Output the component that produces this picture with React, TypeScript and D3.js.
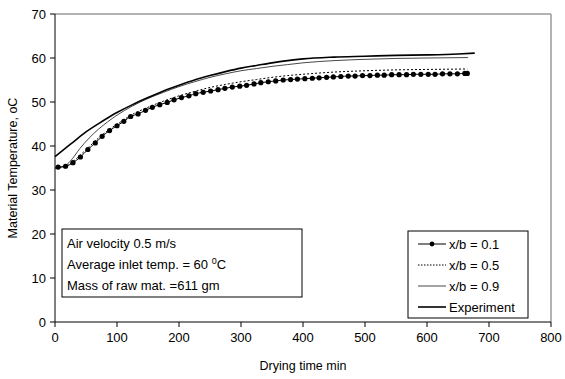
import React from 'react';
import * as d3 from 'd3';

const W = 565;
const H = 379;

// x/b = 0.1 (markers)
const timeXb01 = [5, 17, 29, 41, 53, 65, 76, 88, 100, 111, 122, 134, 146, 157, 169, 181, 192, 204, 216, 227, 239, 251, 263, 274, 286, 298, 309, 321, 332, 344, 356, 368, 380, 391, 403, 415, 426, 438, 449, 461, 473, 484, 496, 508, 520, 531, 543, 555, 567, 578, 590, 602, 613, 625, 637, 649, 661, 665];
const tempXb01 = [35.2, 35.4, 36.2, 37.5, 39.2, 40.7, 42.2, 43.5, 44.6, 45.6, 46.7, 47.3, 48.1, 48.8, 49.4, 49.9, 50.5, 51.0, 51.4, 51.9, 52.2, 52.5, 52.8, 53.1, 53.4, 53.6, 53.8, 54.1, 54.4, 54.6, 54.8, 55.0, 55.1, 55.2, 55.3, 55.4, 55.5, 55.6, 55.7, 55.8, 55.9, 55.9, 56.0, 56.0, 56.1, 56.1, 56.2, 56.2, 56.2, 56.3, 56.3, 56.3, 56.3, 56.4, 56.4, 56.4, 56.5, 56.5];

// x/b = 0.5 (dotted)
const timeXb05 = [0, 15, 30, 45, 60, 75, 90, 105, 125, 150, 175, 200, 225, 250, 275, 300, 325, 350, 375, 400, 450, 500, 550, 600, 665];
const tempXb05 = [35.0, 35.3, 36.6, 38.5, 40.5, 42.4, 44.0, 45.4, 47.2, 48.8, 50.2, 51.4, 52.4, 53.3, 54.0, 54.6, 55.1, 55.6, 56.0, 56.3, 56.8, 57.1, 57.3, 57.4, 57.5];

// x/b = 0.9 (thin solid)
const timeXb09 = [0, 15, 25, 40, 55, 70, 85, 100, 125, 150, 175, 200, 225, 250, 275, 300, 325, 350, 375, 400, 450, 500, 550, 600, 666];
const tempXb09 = [35.0, 35.4, 36.6, 39.4, 41.8, 43.8, 45.5, 47.0, 49.1, 50.8, 52.2, 53.5, 54.6, 55.6, 56.4, 57.1, 57.6, 58.1, 58.5, 58.9, 59.4, 59.7, 59.9, 60.0, 60.1];

// Experiment (thick solid)
const timeExp = [0, 25, 50, 75, 100, 125, 150, 175, 200, 225, 250, 275, 300, 325, 350, 375, 400, 450, 500, 550, 600, 650, 677];
const tempExp = [37.6, 40.4, 43.2, 45.5, 47.6, 49.4, 51.0, 52.5, 53.8, 55.0, 56.0, 56.9, 57.7, 58.3, 58.9, 59.4, 59.8, 60.2, 60.4, 60.6, 60.7, 60.9, 61.1];

const xTicks = [0, 100, 200, 300, 400, 500, 600, 700, 800];
const yTicks = [0, 10, 20, 30, 40, 50, 60, 70];

const legendLabels = ['x/b = 0.1', 'x/b = 0.5', 'x/b = 0.9', 'Experiment'];
const noteLines = ['Air velocity 0.5 m/s', 'Average inlet temp. = 60 ', 'Mass of raw mat. =611 gm'];

const FONT = '"Liberation Sans", Arial, sans-serif';

export default function App() {
  const left = 55, right = 551, top = 14, bottom = 322;
  const x = d3.scaleLinear().domain([0, 800]).range([left, right]);
  const y = d3.scaleLinear().domain([0, 70]).range([bottom, top]);

  const mk = (ts: number[], vs: number[]) => ts.map((t, i) => [t, vs[i]] as [number, number]);
  const line = d3.line<[number, number]>().x(d => x(d[0])).y(d => y(d[1])).curve(d3.curveMonotoneX);

  const d01 = mk(timeXb01, tempXb01);
  const d05 = mk(timeXb05, tempXb05);
  const d09 = mk(timeXb09, tempXb09);
  const dExp = mk(timeExp, tempExp);

  const legX = 408, legY = 231, legW = 120, legH = 87;
  const rowY = (i: number) => legY + 13 + i * 21;

  return (
    <svg width={W} height={H} style={{ position: 'absolute', left: 0, top: 0, background: '#fff' }} fontFamily={FONT}>
      <rect x={0} y={0} width={W} height={H} fill="#fff" />
      {/* plot border top/right */}
      <line x1={left} x2={right} y1={top} y2={top} stroke="#9a9a9a" strokeWidth={1.5} />
      <line x1={right} x2={right} y1={top} y2={bottom} stroke="#9a9a9a" strokeWidth={1.5} />

      {/* series */}
      <path d={line(d05) || ''} fill="none" stroke="#000" strokeWidth={1} strokeDasharray="2,2" />
      <path d={line(d09) || ''} fill="none" stroke="#333" strokeWidth={0.9} />
      <path d={line(dExp) || ''} fill="none" stroke="#000" strokeWidth={1.6} />
      <path d={line(d01) || ''} fill="none" stroke="#000" strokeWidth={1} />
      {d01.map((d, i) => (
        <circle key={i} cx={x(d[0])} cy={y(d[1])} r={2.6} fill="#000" />
      ))}

      {/* axes */}
      <line x1={left} x2={left} y1={top} y2={bottom} stroke="#000" strokeWidth={1} />
      <line x1={left} x2={right} y1={bottom} y2={bottom} stroke="#000" strokeWidth={1} />
      {yTicks.map(t => (
        <g key={'y' + t}>
          <line x1={left - 5} x2={left} y1={y(t)} y2={y(t)} stroke="#000" />
          <text x={left - 9} y={y(t)} dy="0.35em" textAnchor="end" fontSize={13}>{t}</text>
        </g>
      ))}
      {xTicks.map(t => (
        <g key={'x' + t}>
          <line x1={x(t)} x2={x(t)} y1={bottom} y2={bottom + 5} stroke="#000" />
          <text x={x(t)} y={bottom + 20} textAnchor="middle" fontSize={13}>{t}</text>
        </g>
      ))}
      <text x={(left + right) / 2} y={370} textAnchor="middle" fontSize={12.5}>Drying time min</text>
      <text transform={`translate(17,${(top + bottom) / 2}) rotate(-90)`} textAnchor="middle" fontSize={12.5}>Material Temperature, oC</text>

      {/* legend */}
      <rect x={legX} y={legY} width={legW} height={legH} fill="#fff" stroke="#000" strokeWidth={1} />
      {legendLabels.map((lab, i) => {
        const yy = rowY(i);
        return (
          <g key={lab}>
            {i === 0 && <line x1={legX + 10} x2={legX + 38} y1={yy} y2={yy} stroke="#000" strokeWidth={1} />}
            {i === 0 && <circle cx={legX + 24} cy={yy} r={2.4} fill="#000" />}
            {i === 1 && <line x1={legX + 10} x2={legX + 38} y1={yy} y2={yy} stroke="#000" strokeWidth={1} strokeDasharray="1.5,1.5" />}
            {i === 2 && <line x1={legX + 10} x2={legX + 38} y1={yy} y2={yy} stroke="#333" strokeWidth={0.9} />}
            {i === 3 && <line x1={legX + 10} x2={legX + 38} y1={yy} y2={yy} stroke="#000" strokeWidth={1.6} />}
            <text x={legX + 41} y={yy} dy="0.35em" fontSize={13}>{lab}</text>
          </g>
        );
      })}

      {/* note box */}
      <rect x={62} y={229} width={240} height={68} fill="#fff" stroke="#000" strokeWidth={1} />
      <text x={67} y={248} fontSize={13}>{noteLines[0]}</text>
      <text x={67} y={269} fontSize={13}>{noteLines[1]}<tspan dy={-5} fontSize={9}>0</tspan><tspan dy={5}>C</tspan></text>
      <text x={67} y={290} fontSize={13}>{noteLines[2]}</text>
    </svg>
  );
}
